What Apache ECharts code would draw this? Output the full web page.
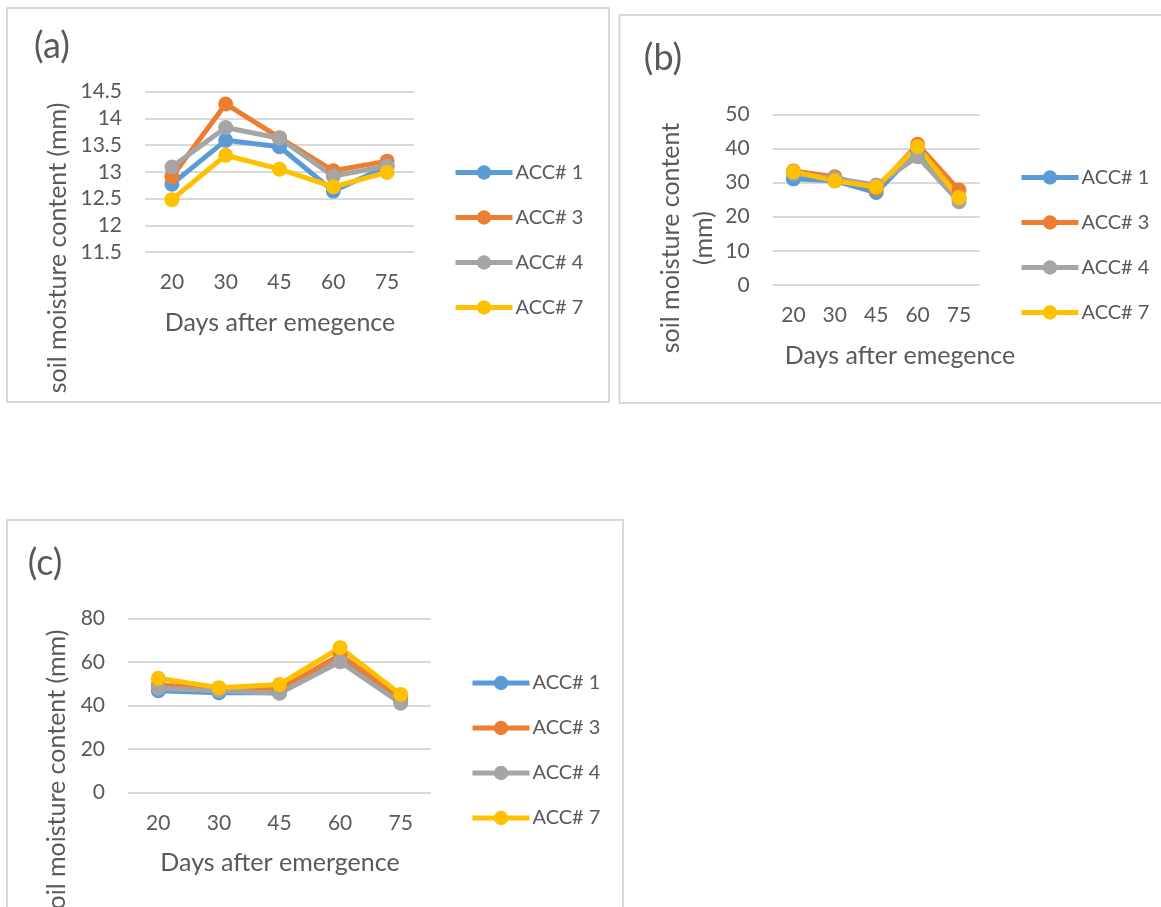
<!DOCTYPE html>
<html>
<head>
<meta charset="utf-8">
<title>soil moisture content</title>
<script src="https://cdn.jsdelivr.net/npm/echarts@6/dist/echarts.min.js"></script>
<style>
  html, body { margin: 0; padding: 0; background: #fff; }
  #chart { width: 1161px; height: 907px; }
</style>
</head>
<body>
<div id="chart"></div>
<script>
// days after emergence
const days = ['20', '30', '45', '60', '75']
const seriesNames = ['ACC# 1', 'ACC# 3', 'ACC# 4', 'ACC# 7']
const colors = ['#5B9BD5', '#ED7D31', '#A5A5A5', '#FFC000']

// (a)
const accA1 = [12.77, 13.59, 13.47, 12.64, 13.1]
const accA3 = [12.91, 14.27, 13.64, 13.02, 13.2]
const accA4 = [13.09, 13.83, 13.63, 12.92, 13.11]
const accA7 = [12.48, 13.31, 13.05, 12.72, 12.99]

// (b)
const accB1 = [31.1, 30.5, 27.1, 39.5, 25.4]
const accB3 = [33.4, 31.7, 28.1, 41.2, 27.8]
const accB4 = [32.7, 31.2, 29.3, 37.6, 24.4]
const accB7 = [33.2, 30.5, 28.7, 40.5, 25.6]

// (c)
const accC1 = [46.9, 46.0, 46.0, 60.5, 42.6]
const accC3 = [49.5, 48.0, 47.5, 63.3, 43.7]
const accC4 = [48.0, 46.9, 45.7, 60.2, 41.1]
const accC7 = [52.6, 48.3, 49.8, 66.7, 45.2]

const panels = [
  { data: [accA1, accA3, accA4, accA7], min: 11.5, max: 14.5, interval: 0.5,
    grid: { left: 145, top: 91.7, width: 269, height: 160.3 },
    legend: { left: 453, top: 162 } },
  { data: [accB1, accB3, accB4, accB7], min: 0, max: 50, interval: 10,
    grid: { left: 772.7, top: 114.3, width: 207, height: 170.7 },
    legend: { left: 1019, top: 167 } },
  { data: [accC1, accC3, accC4, accC7], min: 0, max: 80, interval: 20,
    grid: { left: 128, top: 618.7, width: 303, height: 174 },
    legend: { left: 470, top: 672.5 } }
]

const FONT = 'Lato'
const TEXT = '#595959'

const chart = echarts.init(document.getElementById('chart'))

const grid = panels.map(p => p.grid)
const xAxis = panels.map((p, i) => ({
  type: 'category',
  gridIndex: i,
  data: days,
  boundaryGap: true,
  axisLine: { show: false },
  axisTick: { show: false },
  axisLabel: { color: TEXT, fontFamily: FONT, fontSize: 21, margin: 20 }
}))
const yAxis = panels.map((p, i) => ({
  type: 'value',
  gridIndex: i,
  min: p.min,
  max: p.max,
  interval: p.interval,
  axisLine: { show: false },
  axisTick: { show: false },
  axisLabel: { color: TEXT, fontFamily: FONT, fontSize: 21, margin: 23 },
  splitLine: { lineStyle: { color: '#D9D9D9', width: 2 } }
}))

const series = []
panels.forEach((p, i) => {
  p.data.forEach((values, k) => {
    series.push({
      type: 'line',
      name: seriesNames[k],
      xAxisIndex: i,
      yAxisIndex: i,
      data: values,
      symbol: 'circle',
      symbolSize: 15,
      color: colors[k],
      lineStyle: { width: 5, color: colors[k] },
      itemStyle: { color: colors[k] },
      animation: false
    })
  })
})

const legend = panels.map(p => ({
  orient: 'vertical',
  left: p.legend.left,
  top: p.legend.top,
  padding: 0,
  data: seriesNames,
  itemWidth: 57,
  itemHeight: 18,
  itemGap: 24,
  lineStyle: { width: 5 },
  selectedMode: false,
  textStyle: { color: TEXT, fontFamily: FONT, fontSize: 20, lineHeight: 21, padding: [0, 0, 0, -2] }
}))

function label(text, x, y, size, rotate) {
  return {
    type: 'text',
    x: x,
    y: y,
    rotation: rotate ? Math.PI / 2 : 0,
    style: {
      text: text,
      fill: TEXT,
      font: size + 'px ' + FONT,
      textAlign: 'center',
      textVerticalAlign: 'middle'
    }
  }
}

const border = { fill: 'none', stroke: '#D9D9D9', lineWidth: 2 }

const graphic = [
  { type: 'rect', shape: { x: 7, y: 8, width: 602, height: 394 }, style: border, silent: true },
  { type: 'rect', shape: { x: 619.5, y: 15, width: 560, height: 388 }, style: border, silent: true },
  { type: 'rect', shape: { x: 7, y: 520, width: 616, height: 420 }, style: border, silent: true },

  label('(a)', 52, 46, 36),
  label('(b)', 663, 58, 36),
  label('(c)', 45, 563, 36),

  label('soil moisture content (mm)', 58, 248, 25, true),
  label('soil moisture content', 671, 238, 25, true),
  label('(mm)', 704, 238, 25, true),
  label('soil moisture content (mm)', 57, 775, 25, true),

  label('Days after emegence', 280, 323, 25),
  label('Days after emegence', 900, 356, 25),
  label('Days after emergence', 280, 863, 25)
]

chart.setOption({
  backgroundColor: '#fff',
  animation: false,
  grid: grid,
  xAxis: xAxis,
  yAxis: yAxis,
  legend: legend,
  series: series,
  graphic: graphic
})
</script>
</body>
</html>
